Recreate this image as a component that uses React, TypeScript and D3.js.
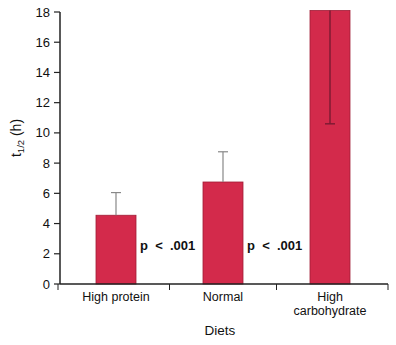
import React from "react";
import * as d3 from "d3";

const categories = ["High protein", "Normal", "High carbohydrate"];
const categoryLines = [["High protein"], ["Normal"], ["High", "carbohydrate"]];
const means = [4.55, 6.75, 18.1];
const errorEnds = [6.05, 8.75, 10.6];
const yTicks = [0, 2, 4, 6, 8, 10, 12, 14, 16, 18];
const pLabels = ["p  <  .001", "p  <  .001"];

const W = 396, H = 345;
const left = 60, right = 388, top = 12, bottom = 284;

export default function App() {
  const x = d3.scaleBand<string>().domain(categories).range([62.5, 383.5]).paddingInner(0).paddingOuter(0);
  const y = d3.scaleLinear().domain([0, 18]).range([bottom, top]);
  const barW = 40;
  const font = "'Liberation Sans', Arial, Helvetica, sans-serif";
  const barColor = "#d32a4b";
  const tickXs = [58, ...categories.slice(1).map((c) => x(c)!), right];
  return (
    <svg width={W} height={H} style={{ position: "absolute", left: 0, top: 0, background: "#fff" }} fontFamily={font}>
      {categories.map((c, i) => {
        const cx = x(c)! + x.bandwidth() / 2;
        const yTop = Math.max(y(means[i]), top - 2);
        return (
          <g key={c}>
            <rect x={cx - barW / 2} y={yTop} width={barW} height={bottom - yTop} fill={barColor} stroke="#a01c36" strokeWidth={0.8} />
            {i < 2 ? (
              <g stroke="#888" strokeWidth={1.2}>
                <line x1={cx} x2={cx} y1={y(means[i])} y2={y(errorEnds[i])} />
                <line x1={cx - 5} x2={cx + 5} y1={y(errorEnds[i])} y2={y(errorEnds[i])} />
              </g>
            ) : (
              <g stroke="#7a1a32" strokeWidth={1.4}>
                <line x1={cx} x2={cx} y1={yTop} y2={y(errorEnds[i])} />
                <line x1={cx - 5} x2={cx + 5} y1={y(errorEnds[i])} y2={y(errorEnds[i])} />
              </g>
            )}
          </g>
        );
      })}
      <line x1={left} x2={left} y1={top} y2={bottom} stroke="#222" strokeWidth={1.5} />
      {yTicks.map((t) => (
        <g key={t}>
          <line x1={left - 6} x2={left} y1={y(t)} y2={y(t)} stroke="#222" strokeWidth={1.2} />
          <text x={left - 10} y={y(t)} dy="0.35em" textAnchor="end" fontSize={13} fill="#111">{t}</text>
        </g>
      ))}
      <line x1={left} x2={right} y1={bottom} y2={bottom} stroke="#222" strokeWidth={1.5} />
      {tickXs.map((t, i) => (
        <line key={i} x1={t} x2={t} y1={bottom} y2={bottom + 6} stroke="#222" strokeWidth={1} />
      ))}
      {categories.map((c, i) => (
        <text key={c} x={x(c)! + x.bandwidth() / 2} y={bottom + 17} textAnchor="middle" fontSize={12.5} fill="#111">
          {categoryLines[i].map((l, j) => (
            <tspan key={j} x={x(c)! + x.bandwidth() / 2} dy={j === 0 ? 0 : 14}>{l}</tspan>
          ))}
        </text>
      ))}
      {pLabels.map((p, i) => {
        const cx = x(categories[i])! + x.bandwidth() / 2;
        return (
          <text key={i} x={cx + barW / 2 + 4} y={y(2.55)} dy="0.35em" fontSize={13} fontWeight={600} fill="#111" style={{ whiteSpace: "pre" }}>{p}</text>
        );
      })}
      <text x={220} y={335} textAnchor="middle" fontSize={13.5} fill="#111">Diets</text>
      <text transform={`translate(21, 138) rotate(-90)`} textAnchor="middle" fontSize={14} fill="#111">
        t<tspan fontSize={9.5} dy={3}>1/2</tspan><tspan dy={-3}> (h)</tspan>
      </text>
    </svg>
  );
}
